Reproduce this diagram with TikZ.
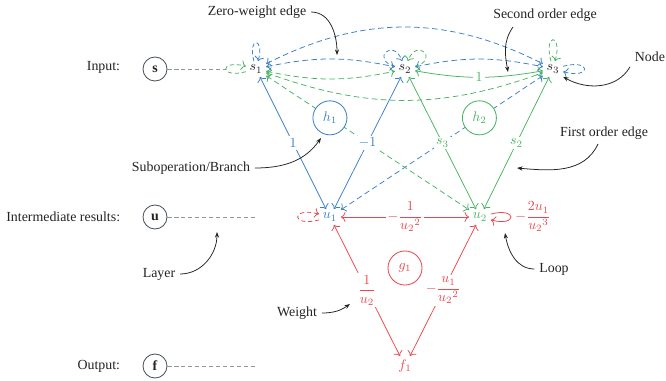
\documentclass[tikz,border=0pt]{standalone}
\usepackage{fontspec}
\setmainfont{Liberation Serif}
\usetikzlibrary{arrows.meta,calc}

\definecolor{eblue}{RGB}{58,128,200}
\definecolor{egreen}{RGB}{72,180,98}
\definecolor{ered}{RGB}{232,72,78}
\definecolor{tiergray}{RGB}{150,150,150}
\definecolor{ringgray}{RGB}{70,82,95}
\definecolor{notegray}{RGB}{35,35,35}

\tikzset{
  var/.style={inner sep=2.5pt, text=notegray},
  layerring/.style={circle, draw=ringgray, line width=0.6pt, minimum size=17.3pt, inner sep=0pt, text=notegray},
  hnode/.style={circle, fill=white, line width=0.6pt, minimum size=24.5pt, inner sep=0pt},
  lab/.style={fill=white, inner sep=1.5pt},
  zero/.style={<->, dash pattern=on 4pt off 2.5pt, line width=0.55pt},
  first/.style={<->, line width=0.55pt},
  selfzero/.style={->, dash pattern=on 3pt off 2pt, line width=0.55pt},
  tier/.style={tiergray, dash pattern=on 3pt off 2pt, line width=0.6pt},
  note/.style={text=notegray},
  pointer/.style={-{Stealth[length=4pt,width=3pt]}, notegray, line width=0.55pt},
}

\begin{document}
\begin{tikzpicture}[x=0.72pt, y=-0.72pt, >={To[scale=1.2]}]
\useasboundingbox (0,0) rectangle (666,380);

% variables
\node[var] (s1) at (256,69) {$s_1$};
\node[var] (s2) at (405,69) {$s_2$};
\node[var] (s3) at (553,69) {$s_3$};
\node[var, text=eblue] (u1) at (330,217) {$u_1$};
\node[var, text=egreen] (u2) at (480,217) {$u_2$};
\node[var, text=ered] (f1) at (405,366) {$f_1$};

% layer column
\node[layerring] (S) at (155,69) {$\mathbf{s}$};
\node[layerring] (U) at (155,217) {$\mathbf{u}$};
\node[layerring] (F) at (155,366) {$\mathbf{f}$};
\node[note, anchor=east] (inLab) at (125,67) {Input:};
\node[note, anchor=east] (imLab) at (125,217) {Intermediate results:};
\node[note, anchor=east] (outLab) at (125,366) {Output:};
\coordinate (sEnd) at (226,69);
\coordinate (uEnd) at (256,217);
\coordinate (fEnd) at (256,366);
\draw[tier] (S) -- (sEnd);
\draw[tier] (U) -- (uEnd);
\draw[tier] (F) -- (fEnd);

% zero-weight second order edges
\draw[zero, eblue] (s1) to[bend left=12] (s2);
\draw[zero, eblue] (s2) to[bend left=12] (s3);
\draw[zero, eblue] (s1) to[bend left=27] (s3);
\draw[zero, egreen] (s1) to[bend right=12] (s2);
\draw[zero, egreen] (s1) to[bend right=20] (s3);
\draw[zero, eblue] (s3) -- (u1);
\draw[zero, egreen] (s1) -- (u2);

% self loops
\draw[selfzero, eblue] (s1) to[loop above, min distance=6.5mm] (s1);
\draw[selfzero, egreen] (s1) to[loop left, min distance=7mm] (s1);
\draw[selfzero, eblue] (s2) to[loop, out=165, in=110, min distance=6.5mm] (s2);
\draw[selfzero, egreen] (s2) to[loop, out=15, in=70, min distance=6.5mm] (s2);
\draw[selfzero, egreen] (s3) to[loop above, min distance=7.5mm] (s3);
\draw[selfzero, eblue] (s3) to[loop right, min distance=7.5mm] (s3);
\draw[selfzero, ered] (u1) to[loop left, min distance=7.5mm] (u1);

% suboperations
\node[hnode, draw=eblue, text=eblue] (h1) at ($(s1)!0.33!(u2)$) {$h_1$};
\node[hnode, draw=egreen, text=egreen] (h2) at ($(s3)!0.33!(u1)$) {$h_2$};
\node[hnode, draw=ered, text=ered] (g1) at (405,268) {$g_1$};

% weighted edges
\draw[first, eblue] (s1) -- node[lab, text=eblue] {$1$} (u1);
\draw[first, eblue] (s2) -- node[lab, text=eblue] {$-1$} (u1);
\draw[first, egreen] (s2) -- node[lab, text=egreen] {$s_3$} (u2);
\draw[first, egreen] (s3) -- node[lab, text=egreen] {$s_2$} (u2);
\draw[first, egreen] (s2) to[bend right=10] node[lab, text=egreen] {$1$} (s3);
\draw[first, ered] (u1) -- node[lab, text=ered] {$-\displaystyle\frac{1}{{u_2}^2}$} (u2);
\draw[first, ered] (u1) -- node[lab, text=ered] {$\displaystyle\frac{1}{u_2}$} (f1);
\draw[first, ered] (u2) -- node[lab, text=ered] {$-\displaystyle\frac{u_1}{{u_2}^2}$} (f1);
\draw[->, ered, line width=0.55pt] (u2) to[loop right, min distance=7mm]
  node[right, text=ered, inner sep=3pt] {$-\displaystyle\frac{2u_1}{{u_2}^3}$} (u2);

% annotations
\node[note] (zw) at (257,12) {Zero-weight edge};
\coordinate (zwTip) at (337,55);
\draw[pointer] (zw.east) to[out=0, in=90] (zwTip);

\node[note] (so) at (545,15) {Second order edge};
\coordinate (soStart) at (513,27);
\coordinate (soTip) at (508,72);
\draw[pointer] (soStart) to[out=235, in=100] (soTip);

\node[note] (nd) at (650,57) {Node};
\draw[pointer] (nd.south west) to[out=240, in=-30] (s3.south east);

\node[note] (fo) at (604,133) {First order edge};
\coordinate (foStart) at (598,144);
\coordinate (foTip) at (517,168);
\draw[pointer] (foStart) to[out=245, in=-5] (foTip);

\node[note] (lp) at (554,269) {Loop};
\coordinate (lpTip) at (505,233);
\draw[pointer] (lp.west) to[out=180, in=-80] (lpTip);

\node[note] (wt) at (297,313) {Weight};
\coordinate (wtTip) at (350,304);
\draw[pointer] (wt.east) to[out=0, in=215] (wtTip);

\node[note] (ly) at (159,274) {Layer};
\coordinate (lyTip) at (217,232);
\draw[pointer] (ly.east) to[out=0, in=-90] (lyTip);

\node[note] (sb) at (191,168) {Suboperation/Branch};
\coordinate (sbTip) at (321,138);
\draw[pointer] (sb.east) to[out=0, in=235] (sbTip);
\end{tikzpicture}
\end{document}
